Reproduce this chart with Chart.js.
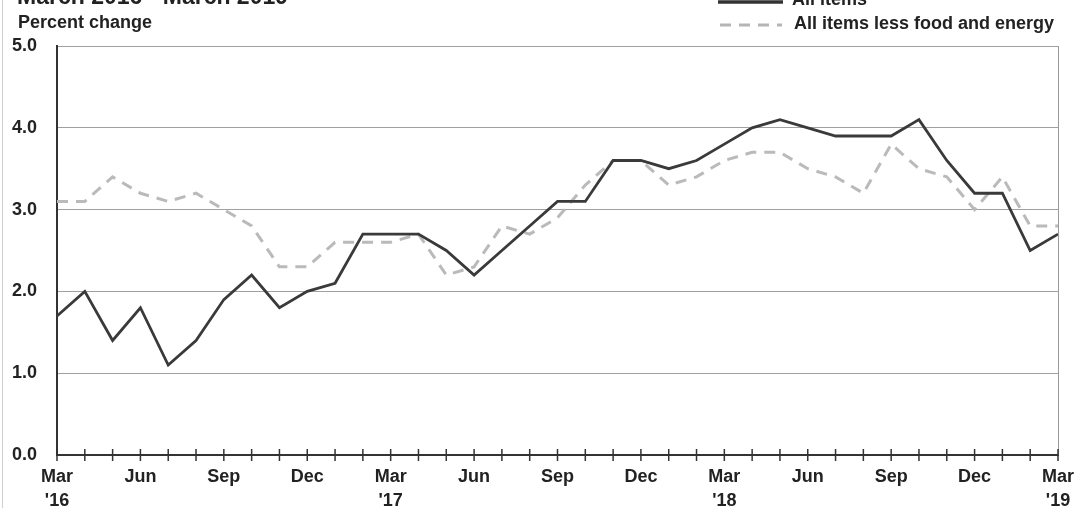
<!DOCTYPE html>
<html>
<head>
<meta charset="utf-8">
<script src="https://cdn.jsdelivr.net/npm/chart.js@4.4.1/dist/chart.umd.min.js"></script>
<style>
  html, body { margin: 0; padding: 0; background: #fff; }
  #wrap { width: 1080px; height: 508px; position: relative; }
</style>
</head>
<body>
<div id="wrap"><canvas id="myChart" width="1080" height="508"></canvas></div>
<script>
// monthly, Mar 2016 .. Mar 2019
const months = ["Mar", "Apr", "May", "Jun", "Jul", "Aug", "Sep", "Oct", "Nov", "Dec", "Jan", "Feb"];
const startYear = 16;
const allItems = [
  1.7, 2.0, 1.4, 1.8, 1.1, 1.4, 1.9, 2.2, 1.8, 2.0, 2.1, 2.7,
  2.7, 2.7, 2.5, 2.2, 2.5, 2.8, 3.1, 3.1, 3.6, 3.6, 3.5, 3.6,
  3.8, 4.0, 4.1, 4.0, 3.9, 3.9, 3.9, 4.1, 3.6, 3.2, 3.2, 2.5,
  2.7
];
const coreItems = [
  3.1, 3.1, 3.4, 3.2, 3.1, 3.2, 3.0, 2.8, 2.3, 2.3, 2.6, 2.6,
  2.6, 2.7, 2.2, 2.3, 2.8, 2.7, 2.9, 3.3, 3.6, 3.6, 3.3, 3.4,
  3.6, 3.7, 3.7, 3.5, 3.4, 3.2, 3.8, 3.5, 3.4, 3.0, 3.4, 2.8,
  2.8
];
const yTicks = [0, 1, 2, 3, 4, 5];

const labels = allItems.map((v, i) => {
  const m = months[i % 12];
  if (i % 12 === 0) return [m, "'" + (startYear + i / 12)];
  return m;
});

const font = "'Liberation Sans', Arial, sans-serif";

const extras = {
  id: "extras",
  afterDraw(chart) {
    const ctx = chart.ctx;
    const a = chart.chartArea;
    const x = chart.scales.x;
    ctx.save();
    // scan edge on the left
    ctx.strokeStyle = "#d0d0d0";
    ctx.lineWidth = 1;
    ctx.beginPath();
    ctx.moveTo(2.5, 0);
    ctx.lineTo(2.5, 508);
    ctx.stroke();
    // right border
    ctx.strokeStyle = "#9a9a9a";
    ctx.beginPath();
    ctx.moveTo(a.right + 0.5, a.top);
    ctx.lineTo(a.right + 0.5, a.bottom);
    ctx.stroke();
    // month tick marks crossing the axis
    ctx.strokeStyle = "#333";
    ctx.lineWidth = 1.5;
    for (let i = 0; i < labels.length; i++) {
      const px = x.getPixelForValue(i);
      ctx.beginPath();
      ctx.moveTo(px, a.bottom - 6);
      ctx.lineTo(px, a.bottom + 6);
      ctx.stroke();
    }
    // title (clipped at top in the original)
    ctx.fillStyle = "#222";
    ctx.textBaseline = "alphabetic";
    ctx.font = "bold 23px " + font;
    ctx.fillText("March 2016 - March 2019", 17, 4);
    ctx.font = "bold 18px " + font;
    ctx.fillText("Percent change", 18, 28);
    // legend
    ctx.strokeStyle = "#333";
    ctx.lineWidth = 3.5;
    ctx.beginPath();
    ctx.moveTo(718, 2);
    ctx.lineTo(783, 2);
    ctx.stroke();
    ctx.fillStyle = "#222";
    ctx.font = "bold 18px " + font;
    ctx.fillText("All items", 792, 5);
    ctx.strokeStyle = "#b5b5b5";
    ctx.lineWidth = 3;
    ctx.setLineDash([11, 8]);
    ctx.beginPath();
    ctx.moveTo(720, 25);
    ctx.lineTo(782, 25);
    ctx.stroke();
    ctx.setLineDash([]);
    ctx.fillText("All items less food and energy", 794, 29);
    ctx.restore();
  }
};

new Chart(document.getElementById("myChart"), {
  type: "line",
  data: {
    labels: labels,
    datasets: [
      {
        label: "All items",
        data: allItems,
        borderColor: "#3a3a3a",
        borderWidth: 2.8,
        pointRadius: 0,
        tension: 0,
        fill: false
      },
      {
        label: "All items less food and energy",
        data: coreItems,
        borderColor: "#bababa",
        borderWidth: 3,
        borderDash: [11, 8],
        pointRadius: 0,
        tension: 0,
        fill: false
      }
    ]
  },
  options: {
    responsive: false,
    animation: false,
    layout: { padding: { top: 46, right: 22, left: 0, bottom: 0 } },
    plugins: {
      legend: { display: false },
      tooltip: { enabled: false },
      title: { display: false }
    },
    scales: {
      x: {
        offset: false,
        grid: { display: false, drawTicks: false },
        border: { display: true, color: "#333", width: 2 },
        ticks: {
          autoSkip: false,
          maxRotation: 0,
          padding: 10,
          color: "#222",
          font: { family: font, size: 18, weight: "bold", lineHeight: 1.33 },
          callback: function (val, i) {
            return i % 3 === 0 ? labels[i] : "";
          }
        },
        afterFit(scale) {
          scale.height = 53;
          scale.paddingLeft = 0;
          scale.paddingRight = 0;
        }
      },
      y: {
        min: 0,
        max: 5,
        afterBuildTicks(scale) { scale.ticks = yTicks.map(v => ({ value: v })); },
        grid: { color: "#a0a0a0", lineWidth: 1, drawTicks: false },
        border: { display: true, color: "#333", width: 2 },
        ticks: {
          padding: 20,
          color: "#222",
          font: { family: font, size: 18, weight: "bold" },
          callback: v => v.toFixed(1)
        },
        afterFit(scale) { scale.width = 57; }
      }
    }
  },
  plugins: [extras]
});
</script>
</body>
</html>
